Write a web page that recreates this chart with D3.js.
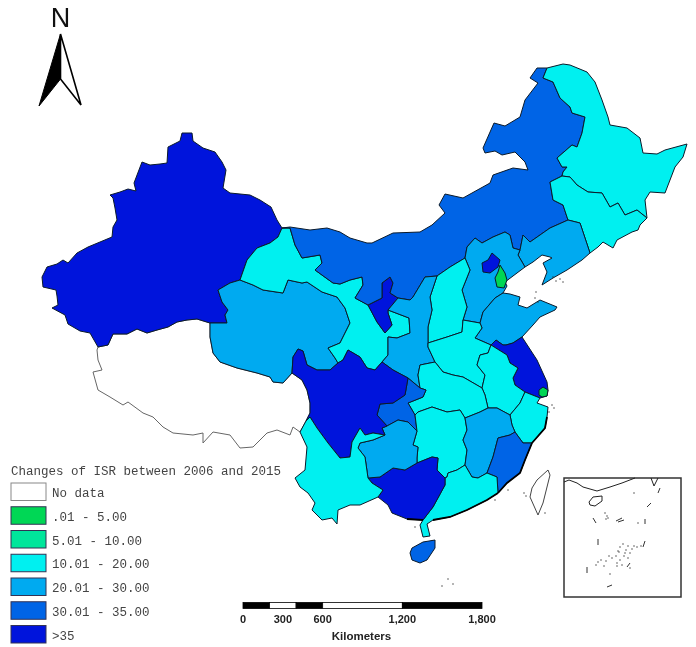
<!DOCTYPE html>
<html>
<head>
<meta charset="utf-8">
<script src="https://cdn.jsdelivr.net/npm/d3@7"></script>
<style>
  html, body { margin: 0; padding: 0; background: #fff; }
  svg { display: block; filter: blur(0.45px); }
</style>
</head>
<body>
<svg id="canvas" width="696" height="647"></svg>
<script>
// legend classes
const classLabels = ["No data", ".01 - 5.00", "5.01 - 10.00", "10.01 - 20.00", "20.01 - 30.00", "30.01 - 35.00", ">35"]
const classColors = ["#ffffff", "#00d755", "#00e69b", "#00f0f0", "#00aaf0", "#0064e6", "#0014dc"]

// scale bar
const barBreaks = [0, 200, 400, 600, 1200, 1800]
const barTicks = [0, 300, 600, 1200, 1800]

// shared borders (map units)
const xjN = [[98,347],[90,333],[80,331],[68,324],[65,315],[52,308],[58,305],[57,296],[56,290],[43,287],[42,277],[47,267],[57,264],[63,260],[68,263],[77,253],[88,247],[100,242],[112,237],[113,227],[117,220],[115,208],[113,198],[110,195],[120,192],[128,189],[136,191],[134,183],[142,162],[150,165],[160,164],[167,163],[168,147],[180,141],[182,133],[192,133],[193,141],[203,148],[215,152],[222,162],[226,170],[223,188],[230,193],[250,195],[260,200],[271,207],[277,220],[282,228]]
const xjGs = [[282,228],[278,237],[270,243],[257,248],[247,260],[240,280]]
const xjQh = [[240,280],[230,283],[218,290],[222,302],[228,310],[225,315],[227,323],[210,323]]
const xjTb = [[210,323],[197,319],[187,320],[177,322],[168,327],[157,330],[147,333],[137,329],[127,334],[113,334],[108,345],[98,347]]
const tbS = [[98,347],[97,350],[98,360],[102,370],[93,372],[98,390],[110,397],[123,405],[128,402],[143,413],[153,417],[163,427],[173,433],[193,435],[203,433],[203,443],[213,432],[230,435],[240,448],[253,447],[267,433],[277,430],[290,435],[293,427],[300,432],[306,421]]
const tbSc = [[292,373],[302,380],[307,390],[310,403],[310,413],[306,421]]
const qhTb = [[210,323],[210,337],[213,353],[220,362],[237,368],[257,373],[270,377],[273,382],[283,383],[292,373]]
const qhSc = [[292,373],[293,357],[298,349],[303,351],[307,365],[317,370],[330,370],[338,363]]
const qhGs = [[338,363],[335,358],[328,348],[340,343],[350,323],[345,308],[337,297],[322,292],[307,282],[302,283],[288,280],[283,293],[263,290],[253,285],[240,280]]
const gsIm = [[282,228],[290,228],[295,245],[302,258],[320,255],[322,263],[315,270],[333,283],[340,284],[350,280],[362,277],[363,285],[355,298],[368,305]]
const gsNx = [[368,305],[377,322],[385,333],[392,325],[388,313],[388,310]]
const gsSn = [[388,310],[409,318],[410,333],[397,338],[388,337],[388,355],[382,362]]
const gsSc = [[382,362],[375,370],[367,368],[360,357],[348,350],[343,360],[338,363]]
const nxIm = [[368,305],[382,298],[382,283],[390,277],[393,283],[390,293],[398,298]]
const nxSn = [[398,298],[388,310]]
const imN = [[282,228],[290,227],[310,230],[327,228],[340,232],[350,238],[367,243],[372,243],[393,233],[420,232],[432,225],[445,213],[439,205],[445,194],[463,198],[490,183],[493,175],[513,168],[528,170],[525,162],[515,152],[502,155],[495,151],[485,153],[483,148],[494,123],[505,126],[520,117],[525,100],[538,83],[530,78],[537,68],[547,68]]
const imHl = [[547,68],[543,78],[553,82],[560,98],[570,107],[572,113],[585,117],[582,133],[577,147],[572,145],[557,158],[562,167],[567,167],[563,172],[562,176]]
const imJl = [[562,176],[550,182],[553,200],[563,205],[568,220]]
const imLn = [[568,220],[550,228],[530,242],[523,235],[520,250]]
const imHe = [[520,250],[513,248],[510,235],[505,232],[493,237],[482,243],[475,238],[467,247],[465,258]]
const imSx = [[465,258],[450,267],[437,276]]
const imSn = [[398,298],[410,300],[413,297],[425,277],[437,276]]
const hlN = [[547,68],[563,64],[570,65],[587,72],[595,82],[602,100],[608,117],[610,125],[627,128],[640,138],[643,153],[657,154],[665,150],[687,144],[683,157],[675,167],[665,193],[650,192],[645,200],[647,218]]
const hlJl = [[647,218],[637,210],[625,215],[618,203],[610,207],[602,193],[588,192],[577,185],[570,177],[562,176]]
const jlLn = [[568,220],[580,223],[585,238],[590,253]]
const jlE = [[590,253],[598,247],[603,242],[613,248],[617,240],[632,232],[638,230],[640,225],[647,218]]
const lnCoast = [[590,253],[582,260],[567,270],[553,278],[542,285],[547,272],[543,263],[552,258],[550,257],[542,255],[533,262],[525,267]]
const heLn = [[525,267],[518,255],[520,250]]
const heCoast = [[525,267],[505,282],[507,286],[503,293]]
const heSd = [[503,293],[495,298],[483,312],[480,323]]
const heHa = [[480,323],[463,320]]
const heSx = [[463,320],[467,307],[462,290],[470,270],[465,258]]
const sdCoast = [[503,293],[510,294],[520,297],[518,305],[527,308],[540,300],[557,307],[555,310],[540,317],[533,325],[522,337]]
const sdJs = [[522,337],[513,343],[506,345],[503,345],[496,340],[491,345]]
const sdHa = [[491,345],[475,338],[482,328],[480,323]]
const haSx = [[463,320],[462,332],[447,337],[428,343]]
const snSx = [[437,276],[430,297],[432,310],[428,327],[428,343]]
const snHa = [[428,343],[428,347],[435,362]]
const snHb = [[435,362],[420,365],[418,375],[420,388]]
const snCq = [[420,388],[408,378]]
const snSc = [[382,362],[393,370],[408,378]]
const haHb = [[435,362],[443,372],[453,375],[463,377],[482,388]]
const haAh = [[491,345],[488,353],[480,355],[477,365],[485,375],[482,388]]
const jsAh = [[491,345],[507,355],[510,363],[518,368],[513,378],[515,385],[525,392]]
const jsCoast = [[522,337],[537,360],[547,382],[548,390],[547,396],[540,398]]
const jsZj = [[525,392],[540,398]]
const zjCoast = [[540,398],[537,403],[548,407],[547,417],[545,428],[532,443]]
const zjFj = [[532,443],[523,443],[515,432]]
const zjJx = [[515,432],[512,425],[510,415]]
const zjAh = [[510,415],[520,403],[525,392]]
const ahJx = [[510,415],[497,408],[488,408]]
const ahHb = [[488,408],[485,395],[482,388]]
const hbJx = [[488,408],[480,412],[465,418]]
const hbHn = [[465,418],[460,410],[447,412],[432,407],[418,412],[415,415]]
const hbCq = [[415,415],[408,403],[423,397],[426,390],[420,388]]
const cqSc = [[408,378],[405,395],[393,403],[380,404],[377,415],[387,426]]
const cqGz = [[387,426],[398,420],[408,422],[417,431]]
const cqHn = [[417,431],[415,415]]
const hnJx = [[465,418],[467,430],[463,440],[467,450],[465,465]]
const hnGd = [[465,465],[457,470],[448,473],[447,477],[445,478]]
const hnGx = [[445,478],[437,470],[438,458],[432,457],[417,463]]
const hnGz = [[417,463],[417,458],[418,447],[413,445],[417,431]]
const jxGd = [[465,465],[472,477],[478,478],[487,473]]
const jxFj = [[487,473],[493,457],[498,438],[510,435],[515,432]]
const fjCoast = [[532,443],[525,460],[520,473],[507,483],[498,493]]
const fjGd = [[498,493],[497,477],[487,473]]
const gdCoast = [[498,493],[487,500],[467,510],[450,517],[433,520],[427,524],[430,536],[423,537],[420,525],[423,520]]
const gdGx = [[423,520],[433,507],[445,485],[445,478]]
const gxCoast = [[423,520],[407,519],[392,513],[388,505],[378,497]]
const gxYn = [[378,497],[383,490],[372,483],[368,478]]
const gxGz = [[368,478],[380,477],[393,468],[405,470],[417,463]]
const gzYn = [[368,478],[365,457],[358,448],[360,443],[373,440],[385,435]]
const gzSc = [[385,435],[382,428],[387,426]]
const scYn = [[385,435],[373,433],[365,435],[360,428],[352,442],[350,457],[340,458],[328,443],[317,428],[310,417],[306,421]]
const ynW = [[378,497],[360,505],[350,505],[338,510],[337,524],[332,518],[322,520],[312,510],[315,503],[308,493],[300,487],[295,478],[305,470],[307,447],[300,432],[306,421]]

// islands and other closed outlines
const hainan = [[412,548],[423,542],[435,540],[435,548],[427,560],[420,563],[412,560],[410,553]]
const taiwan = [[537,480],[548,470],[550,475],[543,503],[538,515],[530,497],[532,488]]
const beijing = [[492,253],[500,260],[498,267],[490,273],[483,272],[482,263],[488,260]]
const tianjin = [[500,265],[505,273],[507,280],[504,288],[497,287],[495,278],[498,272]]
const shanghai = [[539,390],[543,387],[548,390],[547,396],[542,397],[539,395]]

const rev = a => a.slice().reverse()
const ring = (...arcs) => arcs.flat()

// each province: name, legend class, outline
const provinces = [
  ["Tibet", 0, ring(tbS, rev(tbSc), rev(qhTb), xjTb)],
  ["Xinjiang", 6, ring(xjN, xjGs, xjQh, xjTb)],
  ["Qinghai", 4, ring(xjQh, qhTb, qhSc, qhGs)],
  ["Gansu", 3, ring(rev(xjGs), gsIm, gsNx, gsSn, gsSc, qhGs)],
  ["Ningxia", 6, ring(nxIm, nxSn, rev(gsNx))],
  ["Inner Mongolia", 5, ring(imN, imHl, imJl, imLn, imHe, imSx, rev(imSn), rev(nxIm), rev(gsIm))],
  ["Heilongjiang", 3, ring(rev(imHl), hlN, hlJl)],
  ["Jilin", 3, ring(imJl, jlLn, jlE, hlJl)],
  ["Liaoning", 4, ring(rev(imLn), jlLn, lnCoast, heLn)],
  ["Hebei", 4, ring(rev(imHe), rev(heLn), heCoast, heSd, heHa, heSx)],
  ["Shandong", 4, ring(rev(heSd), sdCoast, sdJs, sdHa)],
  ["Shanxi", 3, ring(snSx, rev(haSx), heSx, imSx)],
  ["Shaanxi", 4, ring(rev(nxSn), imSn, snSx, snHa, snHb, snCq, rev(snSc), rev(gsSn))],
  ["Henan", 3, ring(sdHa, heHa, haSx, snHa, haHb, rev(haAh))],
  ["Jiangsu", 6, ring(rev(sdJs), jsCoast, rev(jsZj), rev(jsAh))],
  ["Anhui", 3, ring(jsAh, rev(zjAh), ahJx, ahHb, rev(haAh))],
  ["Zhejiang", 3, ring(jsZj, zjCoast, zjFj, zjJx, zjAh)],
  ["Hubei", 3, ring(rev(snHb), haHb, rev(ahHb), hbJx, hbHn, hbCq)],
  ["Chongqing", 5, ring(snCq, cqSc, cqGz, cqHn, hbCq)],
  ["Hunan", 3, ring(rev(hbHn), hnJx, hnGd, hnGx, hnGz, cqHn)],
  ["Jiangxi", 4, ring(hnJx, jxGd, jxFj, zjJx, ahJx, hbJx)],
  ["Fujian", 5, ring(jxFj, rev(zjFj), fjCoast, fjGd)],
  ["Guangdong", 3, ring(rev(hnGd), jxGd, rev(fjGd), gdCoast, gdGx)],
  ["Guangxi", 6, ring(rev(gdGx), gxCoast, gxYn, gxGz, rev(hnGx))],
  ["Guizhou", 4, ring(rev(gxGz), gzYn, gzSc, cqGz, rev(hnGz))],
  ["Sichuan", 6, ring(qhSc, rev(gsSc), snSc, cqSc, rev(gzSc), scYn, rev(tbSc))],
  ["Yunnan", 3, ring(rev(scYn), rev(gzYn), rev(gxYn), ynW)],
  ["Hainan", 5, hainan],
  ["Beijing", 6, beijing],
  ["Tianjin", 1, tianjin],
  ["Shanghai", 1, shanghai],
]

// coast stretches drawn heavier, the many small islands clog them in the original
const heavyCoasts = [zjCoast.slice(3), fjCoast, gdCoast.slice(0, 5), gxCoast.slice(0, 2)]
const smallIslands = [[553,277],[556,281],[560,279],[563,282],[535,298],[538,302],[536,292],[549,412],[552,405],[554,408],[524,493],[526,496],[545,513],[442,586],[448,579],[453,584],[415,527],[495,500],[508,490]]

// inset
const insetBox = [[564,478],[681,597]]
const insetCoast = [[564,482],[569,480],[577,483],[583,487],[597,491],[610,487],[622,483],[635,478]]
const insetTaiwan = [[651,478],[654,486],[658,478]]
const insetHainan = [[589,502],[593,497],[602,496],[602,501],[595,506],[590,505]]
const insetDashes = [[[647,507],[651,503]],[[658,493],[660,488]],[[593,518],[596,523]],[[645,519],[645,524]],[[598,539],[598,545]],[[645,541],[643,547]],[[587,567],[587,573]],[[630,563],[627,567]],[[607,587],[612,585]],[[616,521],[622,518]],[[618,522],[624,520]]]
const insetDots = [[634,493],[607,516],[605,513],[608,518],[606,519],[638,523],[610,574],[620,547],[623,544],[626,550],[619,552],[628,546],[632,549],[634,546],[612,558],[616,556],[620,560],[624,556],[628,558],[606,561],[609,556],[598,562],[596,565],[601,560],[617,563],[622,565],[625,553],[630,553],[637,547],[641,546],[604,566],[618,551],[617,566],[630,568]]

// north arrow
const arrowLeft = [[60.5,34],[39,106],[60.5,79]]
const arrowRight = [[60.5,34],[81,105],[60.5,79]]

const svg = d3.select("#canvas")
const path = d3.geoPath(d3.geoIdentity())
const color = d3.scaleOrdinal().domain(classLabels.map((d, i) => i)).range(classColors)
const poly = pts => ({type: "Polygon", coordinates: [pts.concat([pts[0]])]})
const line = pts => ({type: "LineString", coordinates: pts})

//drawing provinces
const map = svg.append("g")
map.selectAll("path.province")
  .data(provinces)
  .enter().append("path")
  .attr("class", "province")
  .attr("d", d => path(poly(d[2])))
  .attr("fill", d => color(d[1]))
  .attr("stroke", d => d[1] === 0 ? "#666" : "#0a1a2a")
  .attr("stroke-width", d => d[1] === 0 ? 1 : 1)
  .attr("stroke-linejoin", "round")

map.append("path")
  .attr("d", path(poly(taiwan)))
  .attr("fill", "#fff")
  .attr("stroke", "#444")

map.selectAll("path.coast")
  .data(heavyCoasts)
  .enter().append("path")
  .attr("class", "coast")
  .attr("d", d => path(line(d)))
  .attr("fill", "none")
  .attr("stroke", "#000")
  .attr("stroke-width", 1.8)

map.selectAll("circle.isle")
  .data(smallIslands)
  .enter().append("circle")
  .attr("class", "isle")
  .attr("cx", d => d[0])
  .attr("cy", d => d[1])
  .attr("r", 0.7)
  .attr("fill", "#333")

//inset
const inset = svg.append("g")
inset.append("rect")
  .attr("x", insetBox[0][0])
  .attr("y", insetBox[0][1])
  .attr("width", insetBox[1][0] - insetBox[0][0])
  .attr("height", insetBox[1][1] - insetBox[0][1])
  .attr("fill", "#fff")
  .attr("stroke", "#333")
  .attr("stroke-width", 1.5)
inset.selectAll("path.shore")
  .data([insetCoast, insetTaiwan])
  .enter().append("path")
  .attr("class", "shore")
  .attr("d", d => path(line(d)))
  .attr("fill", "none")
  .attr("stroke", "#222")
inset.append("path")
  .attr("d", path(poly(insetHainan)))
  .attr("fill", "#fff")
  .attr("stroke", "#222")
inset.selectAll("path.dash")
  .data(insetDashes)
  .enter().append("path")
  .attr("class", "dash")
  .attr("d", d => path(line(d)))
  .attr("stroke", "#333")
  .attr("fill", "none")
inset.selectAll("circle")
  .data(insetDots)
  .enter().append("circle")
  .attr("cx", d => d[0])
  .attr("cy", d => d[1])
  .attr("r", 0.7)
  .attr("fill", "#333")

//legend
const legendFont = "'Liberation Mono', monospace"
svg.append("text")
  .attr("x", 11)
  .attr("y", 475)
  .attr("font-family", legendFont)
  .attr("font-size", 12.5)
  .attr("fill", "#444")
  .text("Changes of ISR between 2006 and 2015")

const legendY = d3.scalePoint().domain(classLabels).range([483, 625.5])
const rows = svg.selectAll("g.row")
  .data(classLabels)
  .enter().append("g")
  .attr("class", "row")
  .attr("transform", d => `translate(11, ${legendY(d)})`)
rows.append("rect")
  .attr("width", 35)
  .attr("height", 17.5)
  .attr("fill", (d, i) => classColors[i])
  .attr("stroke", (d, i) => i === 0 ? "#888" : "#335")
rows.append("text")
  .attr("x", 41)
  .attr("y", 14)
  .attr("font-family", legendFont)
  .attr("font-size", 12.5)
  .attr("fill", "#444")
  .text(d => d)

//scale bar
const km = d3.scaleLinear().domain([0, 1800]).range([243, 482])
const bar = svg.append("g")
bar.selectAll("rect")
  .data(d3.pairs(barBreaks))
  .enter().append("rect")
  .attr("x", d => km(d[0]))
  .attr("y", 602.5)
  .attr("width", d => km(d[1]) - km(d[0]))
  .attr("height", 6)
  .attr("fill", (d, i) => i % 2 ? "#fff" : "#000")
  .attr("stroke", "#000")
  .attr("stroke-width", 0.8)
bar.selectAll("text.tick")
  .data(barTicks)
  .enter().append("text")
  .attr("class", "tick")
  .attr("x", d => km(d))
  .attr("y", 623)
  .attr("text-anchor", "middle")
  .attr("font-family", "'Liberation Sans', sans-serif")
  .attr("font-weight", "bold")
  .attr("font-size", 11)
  .attr("fill", "#222")
  .text(d => d3.format(",")(d))
bar.append("text")
  .attr("x", km(900) - 1)
  .attr("y", 640)
  .attr("text-anchor", "middle")
  .attr("font-family", "'Liberation Sans', sans-serif")
  .attr("font-weight", "bold")
  .attr("font-size", 11.5)
  .attr("fill", "#222")
  .text("Kilometers")

//north arrow
svg.append("text")
  .attr("x", 60.5)
  .attr("y", 27)
  .attr("text-anchor", "middle")
  .attr("font-family", "'Liberation Sans', sans-serif")
  .attr("font-size", 27)
  .attr("fill", "#111")
  .text("N")
svg.append("path")
  .attr("d", path(poly(arrowRight)))
  .attr("fill", "#fff")
  .attr("stroke", "#000")
  .attr("stroke-width", 1.6)
svg.append("path")
  .attr("d", path(poly(arrowLeft)))
  .attr("fill", "#000")
  .attr("stroke", "#000")
</script>
</body>
</html>
